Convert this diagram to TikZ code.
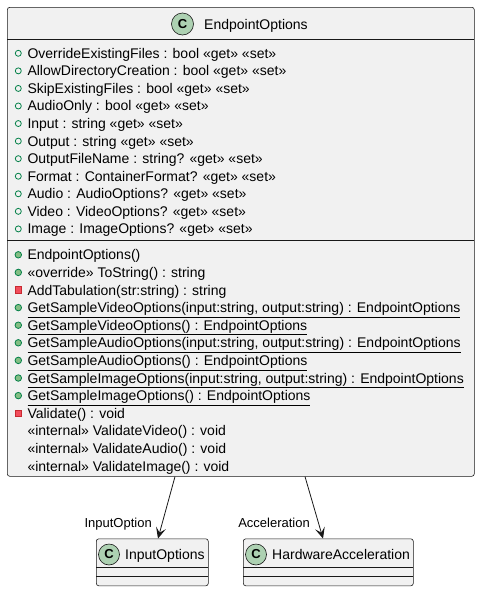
\documentclass[tikz,border=0pt]{standalone}
\usepackage{fontspec}
\setmainfont{Liberation Sans}
\usetikzlibrary{arrows.meta}
\definecolor{boxfill}{HTML}{F1F1F1}
\definecolor{boxline}{HTML}{181818}
\definecolor{spotfill}{HTML}{ADD1B2}
\definecolor{publine}{HTML}{038048}
\definecolor{pubfill}{HTML}{84BE84}
\definecolor{privfill}{HTML}{F24D5C}
\definecolor{privline}{HTML}{C82930}
\newcommand{\ulx}[1]{\underline{#1}}
\begin{document}
\begin{tikzpicture}[x=1pt,y=-1pt,
  classbox/.style={draw=boxline,fill=boxfill,rounded corners=2.5pt,line width=0.6pt,anchor=north west,inner sep=0pt},
  sepline/.style={draw=boxline,line width=0.6pt},
  spot/.style={circle,draw=boxline,fill=spotfill,line width=0.6pt,minimum size=22pt,inner sep=0pt,font=\fontsize{13}{13}\selectfont\bfseries},
  smallspot/.style={spot,minimum size=21pt},
  member/.style={anchor=base west,inner sep=0pt,font=\fontsize{14}{14}\selectfont},
  title/.style={anchor=base west,inner sep=0pt,font=\fontsize{14}{14}\selectfont},
  lbl/.style={anchor=base east,inner sep=0pt,font=\fontsize{13}{13}\selectfont},
  fieldicon/.style={circle,draw=publine,fill=none,line width=0.8pt,minimum size=6pt,inner sep=0pt},
  methicon/.style={circle,draw=publine,fill=pubfill,line width=0.8pt,minimum size=6.5pt,inner sep=0pt},
  privicon/.style={rectangle,draw=privline,fill=privfill,line width=0.6pt,minimum size=6.5pt,inner sep=0pt},
  arr/.style={draw=boxline,line width=0.8pt,-{Stealth[length=11pt,width=10pt,inset=5pt]}}
]
\useasboundingbox (0,0) rectangle (480,592);
% main class
\node[classbox,minimum width=467pt,minimum height=469pt] (main) at (7,7) {};
\draw[sepline] (7,39.3) -- (474,39.3);
\draw[sepline] (7,240.5) -- (474,240.5);
\node[spot] (mspot) at (182.5,24) {C};
\node[title] (mtitle) at (204,29) {EndpointOptions};
% fields
\foreach \i/\t in {0/{OverrideExistingFiles : bool «get» «set»},
  1/{AllowDirectoryCreation : bool «get» «set»},
  2/{SkipExistingFiles : bool «get» «set»},
  3/{AudioOnly : bool «get» «set»},
  4/{Input : string «get» «set»},
  5/{Output : string «get» «set»},
  6/{OutputFileName : string? «get» «set»},
  7/{Format : ContainerFormat? «get» «set»},
  8/{Audio : AudioOptions? «get» «set»},
  9/{Video : VideoOptions? «get» «set»},
  10/{Image : ImageOptions? «get» «set»}}{
  \node[fieldicon] (fi\i) at (18.3,53.3+17.56*\i) {};
  \node[member] (f\i) at (27.3,58.3+17.56*\i) {\t};
}
% methods
\foreach \j/\k/\t in {0/m/{EndpointOptions()},
  1/m/{«override» ToString() : string},
  2/p/{AddTabulation(str:string) : string},
  3/m/{\ulx{GetSampleVideoOptions(input:string, output:string) : EndpointOptions}},
  4/m/{\ulx{GetSampleVideoOptions() : EndpointOptions}},
  5/m/{\ulx{GetSampleAudioOptions(input:string, output:string) : EndpointOptions}},
  6/m/{\ulx{GetSampleAudioOptions() : EndpointOptions}},
  7/m/{\ulx{GetSampleImageOptions(input:string, output:string) : EndpointOptions}},
  8/m/{\ulx{GetSampleImageOptions() : EndpointOptions}},
  9/p/{Validate() : void},
  10/n/{«internal» ValidateVideo() : void},
  11/n/{«internal» ValidateAudio() : void},
  12/n/{«internal» ValidateImage() : void}}{
  \if\k m \node[methicon] (mi\j) at (18.3,254.8+17.6*\j) {};\fi
  \if\k p \node[privicon] (mi\j) at (18.3,254.8+17.6*\j) {};\fi
  \node[member] (m\j) at (27.3,259.8+17.6*\j) {\t};
}
% lower classes
\node[classbox,minimum width=112pt,minimum height=47pt] (inp) at (96,538.5) {};
\draw[sepline] (96,567.5) -- (208,567.5);
\draw[sepline] (96,576) -- (208,576);
\node[smallspot] (ispot) at (109,554.5) {C};
\node[title] (ititle) at (125,559.5) {InputOptions};
\node[classbox,minimum width=170pt,minimum height=47pt] (hw) at (243,538.5) {};
\draw[sepline] (243,567.5) -- (413,567.5);
\draw[sepline] (243,576) -- (413,576);
\node[smallspot] (hspot) at (256,554.5) {C};
\node[title] (htitle) at (272,559.5) {HardwareAcceleration};
% connectors
\draw[arr] ([xshift=168pt]main.south west) -- ([xshift=62pt]inp.north west);
\draw[arr] ([xshift=298pt]main.south west) -- ([xshift=80pt]hw.north west);
\node[lbl] (l1) at (152,527) {InputOption};
\node[lbl] (l2) at (310,527) {Acceleration};
\end{tikzpicture}
\end{document}
